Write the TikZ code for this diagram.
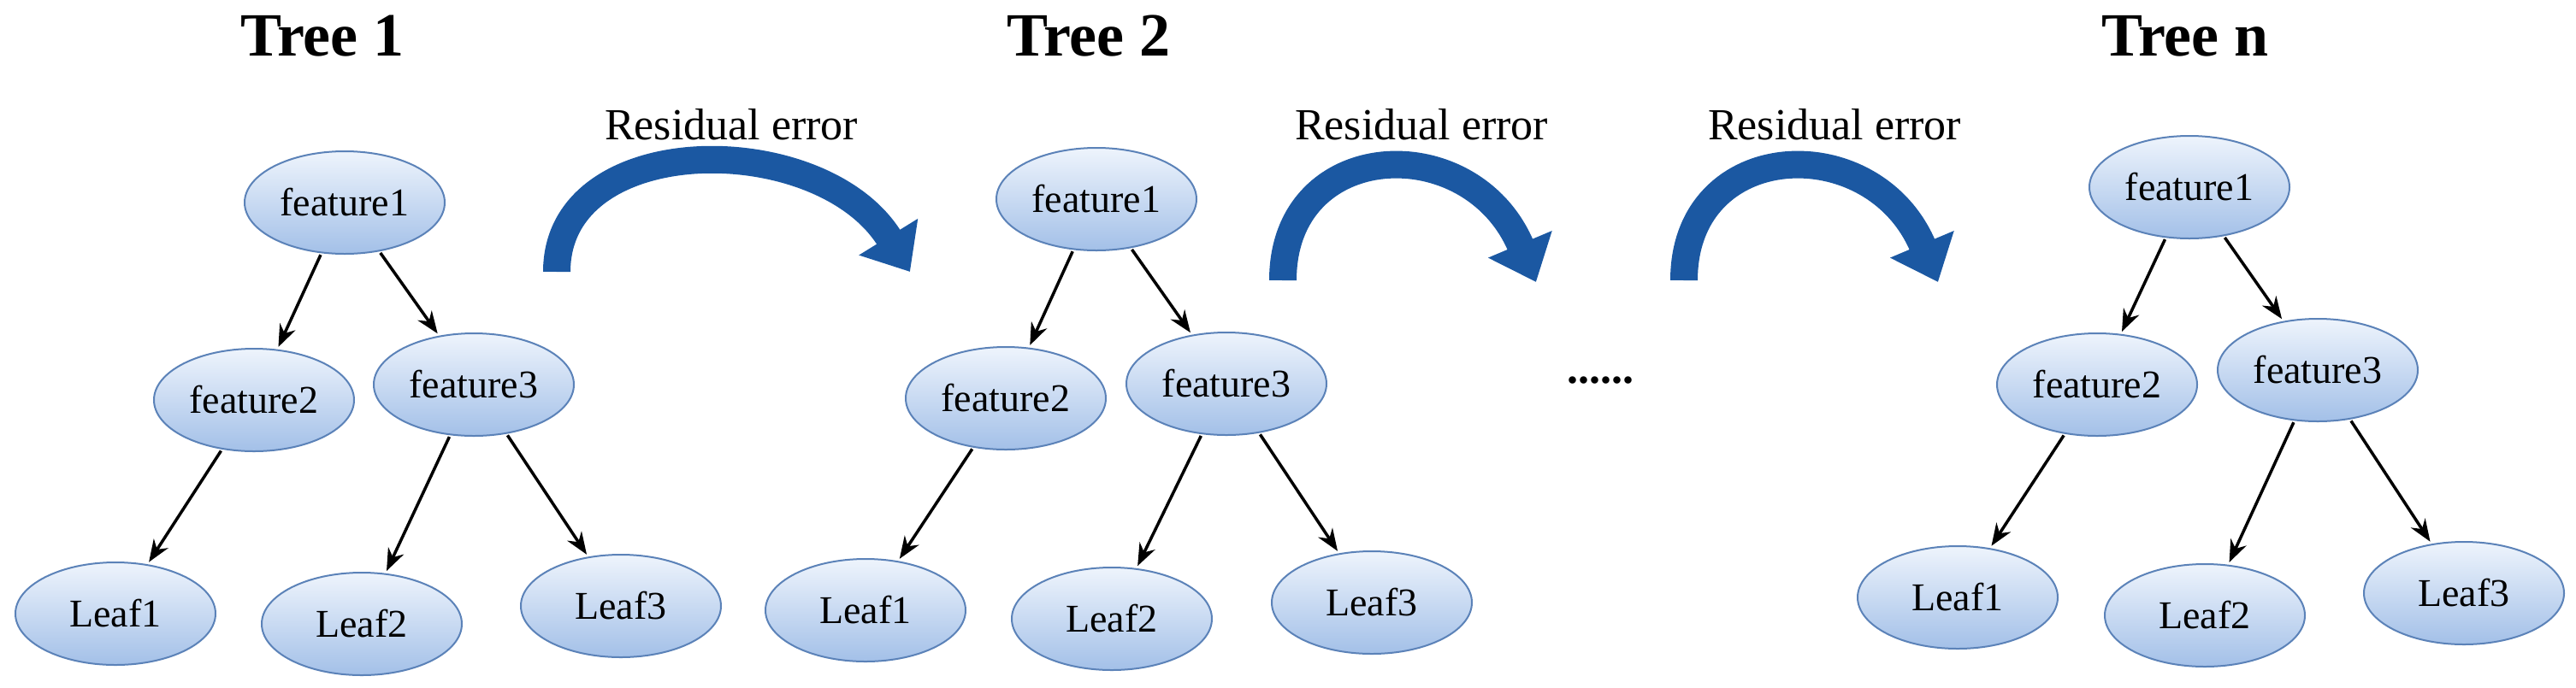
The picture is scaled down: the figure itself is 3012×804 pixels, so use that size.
\documentclass[tikz,border=0pt]{standalone}
\usepackage{fontspec}
\setmainfont{Liberation Serif}
\usetikzlibrary{shapes.geometric,arrows.meta}
\definecolor{nodeborder}{HTML}{5B82B8}
\definecolor{nodetop}{HTML}{EEF4FC}
\definecolor{nodebot}{HTML}{A3C0E8}
\definecolor{arrdark}{HTML}{1B58A2}
\begin{document}
\begin{tikzpicture}[x=1pt,y=-1pt,
  nd/.style={ellipse,draw=nodeborder,line width=2pt,top color=nodetop,bottom color=nodebot,
    minimum width=234pt,minimum height=120pt,inner sep=0pt,
    font=\fontsize{46}{50}\selectfont},
  ttl/.style={font=\fontsize{72}{76}\selectfont\bfseries},
  res/.style={font=\fontsize{52}{56}\selectfont},
  ed/.style={line width=3.5pt,-{Stealth[length=26pt,width=20pt]},shorten <=2pt,shorten >=3pt},
  big/.style={line width=32pt,draw=arrdark,-{Triangle[length=48pt,width=78pt]}}]
\useasboundingbox (0,0) rectangle (3012,804);
% Tree 1
\node[ttl] (t1) at (377,42) {Tree 1};
\node[nd] (a1) at (403,237) {feature1};
\node[nd] (a2) at (297,468) {feature2};
\node[nd] (a3) at (554,450) {feature3};
\node[nd] (a4) at (135,718) {Leaf1};
\node[nd] (a5) at (423,730) {Leaf2};
\node[nd] (a6) at (726,709) {Leaf3};
\draw[ed] (a1) -- (a2);
\draw[ed] (a1) -- (a3);
\draw[ed] (a2) -- (a4);
\draw[ed] (a3) -- (a5);
\draw[ed] (a3) -- (a6);
% Tree 2
\node[ttl] (t2) at (1273,42) {Tree 2};
\node[nd] (b1) at (1282,233) {feature1};
\node[nd] (b2) at (1176,466) {feature2};
\node[nd] (b3) at (1434,449) {feature3};
\node[nd] (b4) at (1012,714) {Leaf1};
\node[nd] (b5) at (1300,724) {Leaf2};
\node[nd] (b6) at (1604,705) {Leaf3};
\draw[ed] (b1) -- (b2);
\draw[ed] (b1) -- (b3);
\draw[ed] (b2) -- (b4);
\draw[ed] (b3) -- (b5);
\draw[ed] (b3) -- (b6);
% Tree n
\node[ttl] (t3) at (2555,42) {Tree n};
\node[nd] (c1) at (2560,219) {feature1};
\node[nd] (c2) at (2452,450) {feature2};
\node[nd] (c3) at (2710,433) {feature3};
\node[nd] (c4) at (2289,699) {Leaf1};
\node[nd] (c5) at (2578,720) {Leaf2};
\node[nd] (c6) at (2881,694) {Leaf3};
\draw[ed] (c1) -- (c2);
\draw[ed] (c1) -- (c3);
\draw[ed] (c2) -- (c4);
\draw[ed] (c3) -- (c5);
\draw[ed] (c3) -- (c6);
% residual arrows
\node[res] (r1) at (855,146) {Residual error};
\node[res] (r2) at (1662,146) {Residual error};
\node[res] (r3) at (2145,146) {Residual error};
\coordinate (s1) at (651,318); \coordinate (e1) at (1064,318);
\coordinate (s2) at (1500,328); \coordinate (e2) at (1796,330);
\coordinate (s3) at (1969,328); \coordinate (e3) at (2266,330);
\draw[big] (s1) .. controls (651,150) and (960,150) .. (e1);
\draw[big] (s2) .. controls (1500,160) and (1720,150) .. (e2);
\draw[big] (s3) .. controls (1969,160) and (2190,150) .. (e3);
\node[font=\fontsize{52}{56}\selectfont\bfseries] (dots) at (1871,445) {......};
\end{tikzpicture}
\end{document}
